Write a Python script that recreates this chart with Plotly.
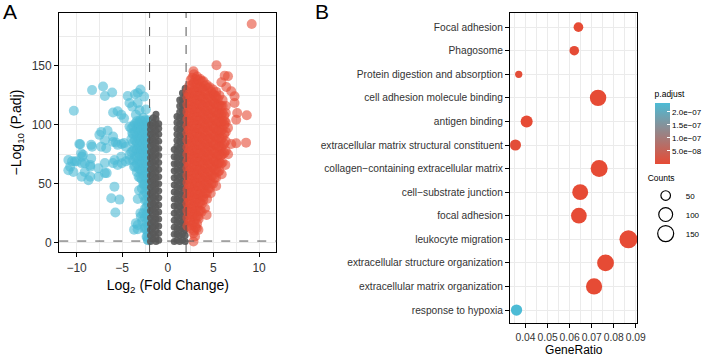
import math
import plotly.graph_objects as go

# ================= Panel A : volcano plot =================
FC_THRESHOLD = 2.0
P_THRESHOLD = 0.05

# dense regions given as lanes: (log2 fold change, [-log10 adj.P values])
ns_lanes = [
    (-1.9, [1, 6, 11, 16, 21, 27, 32, 37, 42, 47, 52, 57, 62, 67, 72, 77, 82, 87, 92, 96, 100]),
    (-1.6, [3, 8, 13, 18, 23, 28, 33, 38, 43, 48, 53, 58, 63, 68, 73, 78, 83, 88, 93, 98, 102, 106]),
    (-1.3, [1, 5, 10, 15, 20, 25, 30, 35, 40, 45, 50, 55, 60, 65, 70, 75, 80, 85, 90, 95, 100, 105, 109]),
    (-1.0, [2, 8, 14, 20, 26, 32, 38, 44, 50, 56, 62, 68, 74, 80, 86, 92, 97, 101]),
    (0.7, [1, 7, 13, 19, 25, 31, 37, 43, 49, 55, 61, 67, 73, 79]),
    (1.0, [2, 7, 12, 17, 22, 27, 32, 37, 42, 47, 52, 57, 62, 67, 72, 77, 82, 87, 92, 97, 102, 107]),
    (1.3, [1, 6, 11, 16, 21, 26, 31, 36, 41, 46, 51, 56, 61, 66, 71, 76, 81, 86, 91, 96, 101, 106, 111, 116, 121]),
    (1.6, [2, 7, 12, 17, 22, 27, 32, 37, 42, 47, 52, 57, 62, 67, 72, 77, 82, 87, 92, 97, 102, 107, 112, 117, 122, 127]),
    (1.9, [1, 6, 11, 16, 21, 26, 31, 36, 41, 46, 51, 56, 61, 66, 71, 76, 81, 86, 91, 96, 101, 106, 111, 116, 121, 126, 131]),
]

down_lanes = [
    (-2.15, [2, 8, 14, 20, 27, 33, 39, 45, 51, 57, 63, 69, 75, 81, 87, 93, 99, 104]),
    (-2.33, [5, 11, 17, 24, 30, 36, 42, 48, 54, 60, 66, 72, 78, 84, 90, 96, 102]),
    (-2.5, [13, 21, 29, 36, 43, 50, 57, 63, 69, 75, 81, 87, 93, 99, 104]),
    (-2.68, [25, 40, 50, 57, 64, 70, 76, 82, 88, 94, 100, 106]),
    (-2.85, [46, 54, 61, 67, 73, 79, 85, 91, 97, 103]),
    (-3.03, [55, 62, 68, 74, 80, 86, 92, 98, 104]),
    (-3.2, [56, 63, 70, 76, 82, 88, 94, 100]),
    (-3.4, [60, 67, 73, 79, 85, 91, 97, 103]),
    (-3.6, [65, 73, 80, 87, 94, 101]),
    (-3.8, [70, 78, 85, 92, 99]),
    (-4.0, [77, 88, 97]),
]

down_points = [
    (-8.3, 129.5), (-7.1, 132.5), (-6.9, 124.5), (-6.1, 127.5), (-10.3, 112.0),
    (-6.0, 110.5), (-5.5, 111.5), (-5.1, 108.5),
    (-4.4, 124.5), (-3.6, 126.0), (-3.0, 130.0), (-3.3, 127.0), (-2.6, 124.0),
    (-4.2, 118.5), (-3.3, 118.5), (-3.9, 115.5), (-3.1, 112.5), (-2.4, 113.0),
    (-4.8, 105.5), (-4.2, 98.5), (-3.3, 101.5), (-3.5, 108.5), (-3.9, 93.0),
    (-7.3, 94.0), (-6.6, 95.0), (-6.9, 87.0), (-6.0, 85.5), (-5.5, 83.0), (-4.8, 84.5),
    (-9.6, 83.5), (-8.4, 83.0), (-7.3, 81.5), (-5.7, 85.0),
    (-9.7, 83.8), (-9.5, 75.9), (-8.3, 81.5), (-7.5, 91.5), (-6.75, 80.1), (-6.0, 90.0),
    (-5.05, 83.8), (-4.6, 81.5), (-5.84, 70.2), (-5.05, 67.4), (-4.2, 70.2), (-3.7, 64.5),
    (-9.3, 74.5), (-8.4, 71.5), (-8.5, 66.0), (-9.45, 67.5), (-10.0, 69.0), (-10.5, 69.0),
    (-10.9, 61.5), (-10.35, 60.0), (-9.1, 60.0), (-9.45, 56.0), (-8.5, 56.0), (-8.7, 53.0),
    (-7.6, 56.0), (-6.7, 59.0), (-6.9, 67.5), (-6.0, 67.5), (-5.5, 66.0), (-4.6, 69.0),
    (-4.2, 74.5), (-5.1, 73.0), (-10.9, 70.2), (-10.2, 68.8), (-9.4, 73.0), (-9.1, 67.4),
    (-8.5, 64.5), (-7.6, 63.2), (-6.9, 59.0), (-10.7, 64.5),
    (-5.85, 47.5), (-6.2, 37.7), (-5.3, 36.5), (-5.75, 25.5),
    (-3.3, 37.0), (-3.15, 44.5), (-2.6, 49.0), (-3.3, 15.0), (-2.8, 18.0), (-3.7, 11.0),
    (-2.25, 5.0), (-2.6, 12.0), (-3.0, 25.0), (-2.2, 2.3), (-3.3, 11.3), (-3.5, 16.5),
    (-2.96, 22.0),
]

up_lanes = [
    (2.15, [14, 21, 27, 33, 39, 45, 51, 57, 63, 69, 75, 81, 87, 93, 99, 105, 111, 117, 123, 128]),
    (2.33, [17, 24, 30, 36, 42, 48, 54, 60, 66, 72, 78, 84, 90, 96, 102, 108, 114, 120, 126, 133]),
    (2.5, [12, 19, 26, 33, 40, 47, 54, 61, 68, 75, 82, 89, 96, 103, 110, 117, 124, 131, 138]),
    (2.68, [15, 22, 29, 36, 43, 50, 57, 64, 71, 78, 85, 92, 99, 106, 113, 120, 127, 134, 140]),
    (2.85, [10, 17, 24, 31, 38, 45, 52, 59, 66, 73, 80, 87, 94, 101, 108, 115, 122, 129, 136, 143]),
    (3.03, [13, 20, 27, 34, 41, 48, 55, 62, 69, 76, 83, 90, 97, 104, 111, 118, 125, 132, 139]),
    (3.2, [16, 23, 30, 37, 44, 51, 58, 65, 72, 79, 86, 93, 100, 107, 114, 121, 128, 135, 141]),
    (3.38, [20, 27, 34, 41, 48, 55, 62, 69, 76, 83, 90, 97, 104, 111, 118, 125, 132, 138]),
    (3.55, [27, 34, 41, 48, 55, 62, 69, 76, 83, 90, 97, 104, 111, 118, 125, 132, 139]),
    (3.73, [33, 40, 47, 54, 61, 68, 75, 82, 89, 96, 103, 110, 117, 124, 131, 137]),
    (3.9, [39, 46, 53, 60, 67, 74, 81, 88, 95, 102, 109, 116, 123, 130, 137]),
    (4.08, [42, 49, 56, 63, 70, 77, 84, 91, 98, 105, 112, 119, 126, 133]),
    (4.25, [42, 49, 56, 63, 70, 77, 84, 91, 98, 105, 112, 119, 126, 134]),
    (4.43, [46, 53, 60, 67, 74, 81, 88, 95, 102, 109, 116, 123, 131]),
    (4.6, [46, 53, 60, 67, 74, 81, 88, 95, 102, 109, 116, 124, 132]),
    (4.78, [50, 57, 64, 71, 78, 85, 92, 99, 106, 113, 120, 128]),
    (4.95, [50, 57, 64, 71, 78, 85, 92, 99, 106, 113, 120, 126, 130]),
    (5.13, [55, 62, 69, 76, 83, 90, 97, 104, 111, 118, 125]),
    (5.3, [55, 62, 69, 76, 83, 90, 97, 104, 111, 118, 124, 128]),
    (5.48, [60, 67, 74, 81, 88, 95, 102, 109, 116, 122]),
    (5.65, [61, 68, 75, 82, 89, 96, 103, 110, 117, 125]),
    (5.83, [67, 74, 81, 88, 95, 102, 109, 116]),
    (6.0, [68, 75, 82, 89, 96, 103, 110, 116, 121]),
    (6.18, [76, 84, 92, 100, 108]),
    (6.35, [78, 86, 94, 102, 110, 116]),
]

up_points = [
    (9.19, 185.7), (5.33, 150.6), (2.81, 145.5), (6.23, 141.8), (6.59, 141.3), (5.87, 136.2),
    (6.41, 132.2), (6.95, 128.5), (7.31, 124.3), (7.31, 118.6), (7.6, 110.1), (8.65, 108.1),
    (7.49, 104.4), (6.59, 97.4), (6.23, 103.0), (6.95, 83.8), (7.49, 84.4), (8.57, 84.9),
    (3.9, 36.2), (4.07, 29.2), (4.25, 23.5), (3.35, 22.1), (3.7, 26.3), (3.17, 12.2),
    (3.35, 10.8), (2.81, 8.0), (2.98, 5.1), (2.81, 0.9), (6.6, 75.0), (6.3, 66.0),
    (5.9, 58.0), (5.3, 48.0), (4.7, 42.0), (4.3, 37.0),
]

# ================= Panel B : enrichment dot plot =================
terms = [
    "Focal adhesion", "Phagosome", "Protein digestion and absorption",
    "cell adhesion molecule binding", "antigen binding",
    "extracellular matrix structural constituent",
    "collagen\u2212containing extracellular matrix", "cell\u2212substrate junction",
    "focal adhesion", "leukocyte migration", "extracellular structure organization",
    "extracellular matrix organization", "response to hypoxia",
]
gene_ratio = [0.0640, 0.0621, 0.0369, 0.0729, 0.0405, 0.0354, 0.0734,
              0.0648, 0.0642, 0.0867, 0.0763, 0.0711, 0.0359]
counts = [51, 50, 30, 139, 77, 67, 147, 130, 128, 165, 145, 135, 68]
p_adjust = [3.1e-10, 8.5e-10, 4.2e-9, 1.6e-12, 2.4e-10, 5.0e-9, 2.0e-13,
            1.1e-11, 1.8e-11, 3.5e-14, 7.7e-15, 1.2e-14, 2.34e-7]
count_breaks = [50, 100, 150]
padj_ticks = [5e-8, 1e-7, 1.5e-7, 2e-7]
padj_ticktext = ["5.0e\u221208", "1.0e\u221207", "1.5e\u221207", "2.0e\u221207"]
ratio_ticks = [0.04, 0.05, 0.06, 0.07, 0.08, 0.09]

# ---------------------------------------------------------------------------
W, H = 708, 358
FONT = "Liberation Sans, Arial, sans-serif"
RED = "#E64B35"
BLUE = "#4DBBD5"
GREY = "#595959"
GRID = "#EBEBEB"


def expand(lanes, points=()):
    xs, ys = [], []
    for x, yl in lanes:
        for y in yl:
            xs.append(x)
            ys.append(y)
    for x, y in points:
        xs.append(x)
        ys.append(y)
    return xs, ys


def dot_size(c):
    return 1.455 * math.sqrt(c) - 0.7


dn_x, dn_y = expand(down_lanes, down_points)
ns_x, ns_y = expand(ns_lanes)
up_x, up_y = expand(up_lanes, up_points)

fig = go.Figure()
fig.add_trace(go.Scatter(x=dn_x, y=dn_y, mode="markers", showlegend=False, hoverinfo="skip",
                         marker=dict(color=BLUE, size=10, opacity=0.6, line=dict(width=0))))
fig.add_trace(go.Scatter(x=ns_x, y=ns_y, mode="markers", showlegend=False, hoverinfo="skip",
                         marker=dict(color=GREY, size=7, opacity=0.9, line=dict(width=0))))
fig.add_trace(go.Scatter(x=up_x, y=up_y, mode="markers", showlegend=False, hoverinfo="skip",
                         marker=dict(color=RED, size=10, opacity=0.6, line=dict(width=0))))

# threshold lines
for xv in (-FC_THRESHOLD, FC_THRESHOLD):
    fig.add_shape(type="line", xref="x", yref="y domain", x0=xv, x1=xv, y0=0, y1=1,
                  line=dict(color="#555555", width=1, dash="dash"))
fig.add_shape(type="line", xref="x domain", yref="y", x0=0, x1=1,
              y0=-math.log10(P_THRESHOLD), y1=-math.log10(P_THRESHOLD),
              line=dict(color="#555555", width=1, dash="dash"))

# Panel B dots
fig.add_trace(go.Scatter(
    x=gene_ratio, y=terms, xaxis="x2", yaxis="y2", mode="markers", showlegend=False,
    marker=dict(
        size=[dot_size(c) for c in counts], sizemode="diameter",
        color=p_adjust, cmin=min(p_adjust), cmax=max(p_adjust),
        colorscale=[[0, RED], [1, BLUE]], opacity=1, line=dict(width=0),
        colorbar=dict(
            title=dict(text="p.adjust", side="top", font=dict(size=8.5, color="#000", family=FONT)),
            x=663 / W, xanchor="left", y=1 - 88 / H, yanchor="top",
            lenmode="pixels", len=76, thicknessmode="pixels", thickness=15,
            outlinewidth=0, xpad=0, ypad=0,
            tickvals=padj_ticks, ticktext=padj_ticktext, ticks="inside",
            tickcolor="white", ticklen=3, tickfont=dict(size=8, color="#000", family=FONT),
        ),
    ),
))

# size legend entries
for c in count_breaks:
    fig.add_trace(go.Scatter(
        x=[None], y=[None], xaxis="x2", yaxis="y2", mode="markers", name=str(c),
        marker=dict(symbol="circle-open", size=dot_size(c), color="black", line=dict(width=1.2)),
    ))

axis_common = dict(showline=True, mirror=True, linecolor="black", linewidth=1.3,
                   ticks="outside", ticklen=4, tickcolor="black", tickwidth=1,
                   gridcolor=GRID, gridwidth=1, zeroline=False)

fig.update_layout(
    width=W, height=H, margin=dict(l=0, r=0, t=0, b=0),
    paper_bgcolor="white", plot_bgcolor="white",
    font=dict(family=FONT, color="#000"),
    xaxis=dict(domain=[60 / W, 280 / W], range=[-11.9, 11.9], anchor="y",
               tickvals=[-10, -5, 0, 5, 10],
               minor=dict(dtick=2.5, tick0=0, showgrid=True, gridcolor=GRID, gridwidth=0.7, ticks=""),
               tickfont=dict(size=12, color="#333"),
               title=dict(text="Log<sub>2</sub> (Fold Change)", font=dict(size=14, color="#000"), standoff=6),
               **axis_common),
    yaxis=dict(domain=[1 - 252 / H, 1 - 13 / H], range=[-8, 195], anchor="x",
               tickvals=[0, 50, 100, 150],
               minor=dict(dtick=25, tick0=0, showgrid=True, gridcolor=GRID, gridwidth=0.7, ticks=""),
               tickfont=dict(size=12, color="#333"),
               title=dict(text="\u2212Log<sub>10</sub> (P.adj)", font=dict(size=14, color="#000"), standoff=6),
               **axis_common),
    xaxis2=dict(domain=[516.7 / W, 645.7 / W], range=[0.033, 0.0908], anchor="y2",
                tickvals=ratio_ticks, ticktext=[f"{v:.2f}" for v in ratio_ticks], tickangle=0,
                minor=dict(dtick=0.005, tick0=0.035, showgrid=True, gridcolor=GRID, gridwidth=0.7, ticks=""),
                tickfont=dict(size=10.3, color="#333"),
                title=dict(text="GeneRatio", font=dict(size=12, color="#000"), standoff=3),
                **axis_common),
    yaxis2=dict(domain=[1 - 323 / H, 1 - 13 / H], anchor="x2", type="category",
                categoryorder="array", categoryarray=terms,
                range=[len(terms) - 1 + 0.55, -0.6],
                tickfont=dict(size=10.2, color="#333"),
                **axis_common),
    legend=dict(title=dict(text="Counts", font=dict(size=8.5, color="#000")),
                x=654 / W, xanchor="left", y=1 - 170 / H, yanchor="top",
                font=dict(size=8, color="#000"), bgcolor="rgba(0,0,0,0)",
                tracegroupgap=0, itemsizing="trace", itemwidth=30),
    annotations=[
        dict(text="A", x=1 / W, y=1 + 2 / H, xref="paper", yref="paper", xanchor="left",
             yanchor="top", showarrow=False, font=dict(size=21, color="#000")),
        dict(text="B", x=317 / W, y=1 + 2 / H, xref="paper", yref="paper", xanchor="left",
             yanchor="top", showarrow=False, font=dict(size=21, color="#000")),
    ],
)

fig.write_html("out.html", config={"displayModeBar": False},
               post_script="document.body.style.margin='0';")
